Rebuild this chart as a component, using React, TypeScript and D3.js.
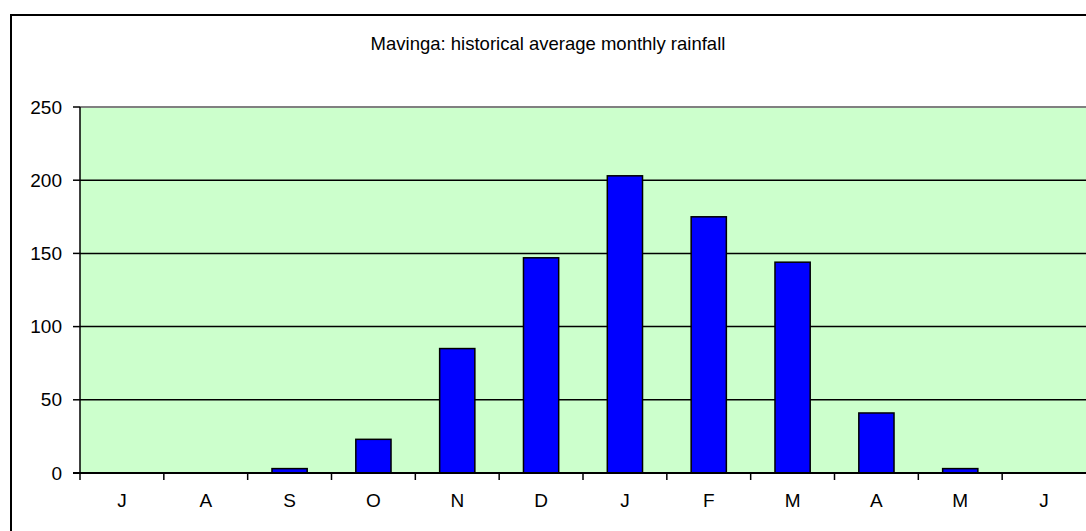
import React from "react";
import * as d3 from "d3";

const months = ["J", "A", "S", "O", "N", "D", "J", "F", "M", "A", "M", "J"];
const rainfall = [0, 0, 3, 23, 85, 147, 203, 175, 144, 41, 3, 0];
const yTicks = [0, 50, 100, 150, 200, 250];
const title = "Mavinga: historical average monthly rainfall";

const W = 1086;
const H = 531;
const plot = { left: 80, right: 1086, top: 107, bottom: 473 };

export default function App() {
  const idx = months.map((_, i) => String(i));
  const x = d3.scaleBand<string>().domain(idx).range([plot.left, plot.right]).padding(0);
  const y = d3.scaleLinear().domain([0, 250]).range([plot.bottom, plot.top]);
  const bw = x.bandwidth() * 0.42;
  const font = "Arial, 'Liberation Sans', sans-serif";

  return (
    <svg
      width={W}
      height={H}
      style={{ position: "absolute", left: 0, top: 0, background: "#fff" }}
      fontFamily={font}
    >
      <rect x={0} y={0} width={W} height={H} fill="#fff" />
      <rect x={11} y={15} width={W + 20} height={H + 20} fill="none" stroke="#000" strokeWidth={2} />
      <text x={548} y={50} textAnchor="middle" fontSize={18.5} fill="#000">
        {title}
      </text>
      <rect
        x={plot.left}
        y={plot.top}
        width={plot.right - plot.left + 5}
        height={plot.bottom - plot.top}
        fill="#CCFFCC"
      />
      {yTicks.slice(1, -1).map((t) => (
        <line key={t} x1={plot.left} x2={plot.right + 5} y1={y(t)} y2={y(t)} stroke="#000" strokeWidth={1.5} />
      ))}
      <line x1={plot.left} x2={plot.right + 5} y1={y(250)} y2={y(250)} stroke="#808080" strokeWidth={2} />
      {rainfall.map((v, i) => {
        const cx = (x(String(i)) as number) + x.bandwidth() / 2;
        const top = y(v);
        return (
          <rect
            key={i}
            x={cx - bw / 2}
            y={top}
            width={bw}
            height={plot.bottom - top}
            fill="#0000FF"
            stroke="#000"
            strokeWidth={1.5}
          />
        );
      })}
      <line x1={plot.left} x2={plot.left} y1={plot.top} y2={plot.bottom} stroke="#000" strokeWidth={1.5} />
      <line x1={plot.left - 7} x2={plot.right + 5} y1={plot.bottom} y2={plot.bottom} stroke="#000" strokeWidth={2} />
      {yTicks.map((t) => (
        <g key={t}>
          <line x1={plot.left - 7} x2={plot.left} y1={y(t)} y2={y(t)} stroke="#000" strokeWidth={1.5} />
          <text x={62} y={y(t)} dy="0.35em" textAnchor="end" fontSize={19} fill="#000">
            {t}
          </text>
        </g>
      ))}
      {months.map((m, i) => {
        const x0 = x(String(i)) as number;
        return (
          <g key={i}>
            <line x1={x0} x2={x0} y1={plot.bottom} y2={plot.bottom + 7} stroke="#000" strokeWidth={1.5} />
            <text x={x0 + x.bandwidth() / 2} y={507} textAnchor="middle" fontSize={19} fill="#000">
              {m}
            </text>
          </g>
        );
      })}
    </svg>
  );
}
